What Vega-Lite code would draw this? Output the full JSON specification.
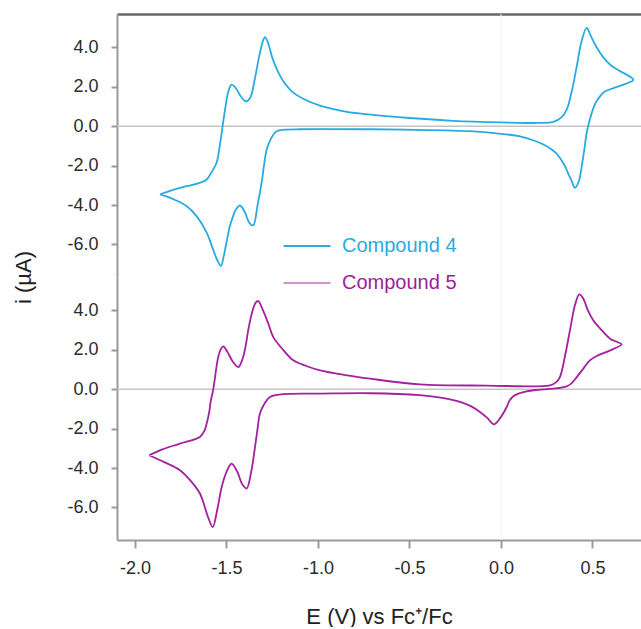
{
  "$schema": "https://vega.github.io/schema/vega-lite/v6.json",
  "padding": {"left": 12, "top": 13, "right": 0, "bottom": 0},
  "spacing": 0,
  "bounds": "flush",
  "datasets": {
    "cv": [
      {"compound": "Compound 4", "seq": 1, "E": -1.863, "i": -3.46},
      {"compound": "Compound 4", "seq": 2, "E": -1.8, "i": -3.25},
      {"compound": "Compound 4", "seq": 3, "E": -1.718, "i": -3.04},
      {"compound": "Compound 4", "seq": 4, "E": -1.65, "i": -2.88},
      {"compound": "Compound 4", "seq": 5, "E": -1.608, "i": -2.7},
      {"compound": "Compound 4", "seq": 6, "E": -1.58, "i": -2.3},
      {"compound": "Compound 4", "seq": 7, "E": -1.554, "i": -1.85},
      {"compound": "Compound 4", "seq": 8, "E": -1.535, "i": -0.9},
      {"compound": "Compound 4", "seq": 9, "E": -1.521, "i": 0.0},
      {"compound": "Compound 4", "seq": 10, "E": -1.505, "i": 1.0},
      {"compound": "Compound 4", "seq": 11, "E": -1.49, "i": 1.75},
      {"compound": "Compound 4", "seq": 12, "E": -1.472, "i": 2.11},
      {"compound": "Compound 4", "seq": 13, "E": -1.45, "i": 1.95},
      {"compound": "Compound 4", "seq": 14, "E": -1.42, "i": 1.5},
      {"compound": "Compound 4", "seq": 15, "E": -1.393, "i": 1.27},
      {"compound": "Compound 4", "seq": 16, "E": -1.37, "i": 1.45},
      {"compound": "Compound 4", "seq": 17, "E": -1.345, "i": 2.4},
      {"compound": "Compound 4", "seq": 18, "E": -1.32, "i": 3.6},
      {"compound": "Compound 4", "seq": 19, "E": -1.3, "i": 4.35},
      {"compound": "Compound 4", "seq": 20, "E": -1.29, "i": 4.53},
      {"compound": "Compound 4", "seq": 21, "E": -1.275, "i": 4.3},
      {"compound": "Compound 4", "seq": 22, "E": -1.25, "i": 3.5},
      {"compound": "Compound 4", "seq": 23, "E": -1.22, "i": 2.8},
      {"compound": "Compound 4", "seq": 24, "E": -1.19, "i": 2.3},
      {"compound": "Compound 4", "seq": 25, "E": -1.14, "i": 1.75},
      {"compound": "Compound 4", "seq": 26, "E": -1.08, "i": 1.4},
      {"compound": "Compound 4", "seq": 27, "E": -0.989, "i": 1.05},
      {"compound": "Compound 4", "seq": 28, "E": -0.85, "i": 0.75},
      {"compound": "Compound 4", "seq": 29, "E": -0.7, "i": 0.58},
      {"compound": "Compound 4", "seq": 30, "E": -0.5, "i": 0.42},
      {"compound": "Compound 4", "seq": 31, "E": -0.26, "i": 0.28},
      {"compound": "Compound 4", "seq": 32, "E": 0.0, "i": 0.2},
      {"compound": "Compound 4", "seq": 33, "E": 0.2, "i": 0.17},
      {"compound": "Compound 4", "seq": 34, "E": 0.286, "i": 0.22},
      {"compound": "Compound 4", "seq": 35, "E": 0.33, "i": 0.45},
      {"compound": "Compound 4", "seq": 36, "E": 0.359, "i": 0.85},
      {"compound": "Compound 4", "seq": 37, "E": 0.385, "i": 1.7},
      {"compound": "Compound 4", "seq": 38, "E": 0.414, "i": 3.04},
      {"compound": "Compound 4", "seq": 39, "E": 0.44, "i": 4.3},
      {"compound": "Compound 4", "seq": 40, "E": 0.468, "i": 5.0},
      {"compound": "Compound 4", "seq": 41, "E": 0.49, "i": 4.6},
      {"compound": "Compound 4", "seq": 42, "E": 0.52, "i": 4.05},
      {"compound": "Compound 4", "seq": 43, "E": 0.559, "i": 3.5},
      {"compound": "Compound 4", "seq": 44, "E": 0.6, "i": 3.1},
      {"compound": "Compound 4", "seq": 45, "E": 0.65, "i": 2.8},
      {"compound": "Compound 4", "seq": 46, "E": 0.69, "i": 2.6},
      {"compound": "Compound 4", "seq": 47, "E": 0.723, "i": 2.36},
      {"compound": "Compound 4", "seq": 48, "E": 0.68, "i": 2.15},
      {"compound": "Compound 4", "seq": 49, "E": 0.614, "i": 1.94},
      {"compound": "Compound 4", "seq": 50, "E": 0.565, "i": 1.75},
      {"compound": "Compound 4", "seq": 51, "E": 0.541, "i": 1.52},
      {"compound": "Compound 4", "seq": 52, "E": 0.515, "i": 1.15},
      {"compound": "Compound 4", "seq": 53, "E": 0.496, "i": 0.68},
      {"compound": "Compound 4", "seq": 54, "E": 0.48, "i": 0.15},
      {"compound": "Compound 4", "seq": 55, "E": 0.468, "i": -0.34},
      {"compound": "Compound 4", "seq": 56, "E": 0.455, "i": -1.2},
      {"compound": "Compound 4", "seq": 57, "E": 0.441, "i": -2.03},
      {"compound": "Compound 4", "seq": 58, "E": 0.425, "i": -2.8},
      {"compound": "Compound 4", "seq": 59, "E": 0.404, "i": -3.12},
      {"compound": "Compound 4", "seq": 60, "E": 0.385, "i": -2.75},
      {"compound": "Compound 4", "seq": 61, "E": 0.365, "i": -2.35},
      {"compound": "Compound 4", "seq": 62, "E": 0.35, "i": -2.03},
      {"compound": "Compound 4", "seq": 63, "E": 0.3, "i": -1.35},
      {"compound": "Compound 4", "seq": 64, "E": 0.25, "i": -1.01},
      {"compound": "Compound 4", "seq": 65, "E": 0.18, "i": -0.72},
      {"compound": "Compound 4", "seq": 66, "E": 0.104, "i": -0.51},
      {"compound": "Compound 4", "seq": 67, "E": -0.05, "i": -0.33},
      {"compound": "Compound 4", "seq": 68, "E": -0.169, "i": -0.25},
      {"compound": "Compound 4", "seq": 69, "E": -0.535, "i": -0.17},
      {"compound": "Compound 4", "seq": 70, "E": -0.989, "i": -0.14},
      {"compound": "Compound 4", "seq": 71, "E": -1.098, "i": -0.15},
      {"compound": "Compound 4", "seq": 72, "E": -1.18, "i": -0.17},
      {"compound": "Compound 4", "seq": 73, "E": -1.226, "i": -0.25},
      {"compound": "Compound 4", "seq": 74, "E": -1.255, "i": -0.6},
      {"compound": "Compound 4", "seq": 75, "E": -1.28, "i": -1.18},
      {"compound": "Compound 4", "seq": 76, "E": -1.295, "i": -2.0},
      {"compound": "Compound 4", "seq": 77, "E": -1.308, "i": -2.87},
      {"compound": "Compound 4", "seq": 78, "E": -1.33, "i": -4.0},
      {"compound": "Compound 4", "seq": 79, "E": -1.354, "i": -5.03},
      {"compound": "Compound 4", "seq": 80, "E": -1.375, "i": -4.9},
      {"compound": "Compound 4", "seq": 81, "E": -1.4, "i": -4.35},
      {"compound": "Compound 4", "seq": 82, "E": -1.426, "i": -4.02},
      {"compound": "Compound 4", "seq": 83, "E": -1.45, "i": -4.25},
      {"compound": "Compound 4", "seq": 84, "E": -1.465, "i": -4.6},
      {"compound": "Compound 4", "seq": 85, "E": -1.481, "i": -5.06},
      {"compound": "Compound 4", "seq": 86, "E": -1.5, "i": -5.9},
      {"compound": "Compound 4", "seq": 87, "E": -1.515, "i": -6.6},
      {"compound": "Compound 4", "seq": 88, "E": -1.53, "i": -7.09},
      {"compound": "Compound 4", "seq": 89, "E": -1.55, "i": -6.8},
      {"compound": "Compound 4", "seq": 90, "E": -1.575, "i": -6.2},
      {"compound": "Compound 4", "seq": 91, "E": -1.608, "i": -5.4},
      {"compound": "Compound 4", "seq": 92, "E": -1.66, "i": -4.6},
      {"compound": "Compound 4", "seq": 93, "E": -1.718, "i": -4.05},
      {"compound": "Compound 4", "seq": 94, "E": -1.79, "i": -3.7},
      {"compound": "Compound 4", "seq": 95, "E": -1.863, "i": -3.46},
      {"compound": "Compound 5", "seq": 1, "E": -1.922, "i": -3.35},
      {"compound": "Compound 5", "seq": 2, "E": -1.85, "i": -3.05},
      {"compound": "Compound 5", "seq": 3, "E": -1.754, "i": -2.76},
      {"compound": "Compound 5", "seq": 4, "E": -1.645, "i": -2.42},
      {"compound": "Compound 5", "seq": 5, "E": -1.62, "i": -2.1},
      {"compound": "Compound 5", "seq": 6, "E": -1.608, "i": -1.74},
      {"compound": "Compound 5", "seq": 7, "E": -1.595, "i": -1.2},
      {"compound": "Compound 5", "seq": 8, "E": -1.585, "i": -0.56},
      {"compound": "Compound 5", "seq": 9, "E": -1.572, "i": 0.0},
      {"compound": "Compound 5", "seq": 10, "E": -1.555, "i": 1.1},
      {"compound": "Compound 5", "seq": 11, "E": -1.545, "i": 1.64},
      {"compound": "Compound 5", "seq": 12, "E": -1.53, "i": 2.05},
      {"compound": "Compound 5", "seq": 13, "E": -1.517, "i": 2.18},
      {"compound": "Compound 5", "seq": 14, "E": -1.495, "i": 1.9},
      {"compound": "Compound 5", "seq": 15, "E": -1.465, "i": 1.4},
      {"compound": "Compound 5", "seq": 16, "E": -1.435, "i": 1.13},
      {"compound": "Compound 5", "seq": 17, "E": -1.41, "i": 1.6},
      {"compound": "Compound 5", "seq": 18, "E": -1.395, "i": 2.2},
      {"compound": "Compound 5", "seq": 19, "E": -1.381, "i": 3.0},
      {"compound": "Compound 5", "seq": 20, "E": -1.36, "i": 3.9},
      {"compound": "Compound 5", "seq": 21, "E": -1.34, "i": 4.4},
      {"compound": "Compound 5", "seq": 22, "E": -1.326, "i": 4.48},
      {"compound": "Compound 5", "seq": 23, "E": -1.3, "i": 4.0},
      {"compound": "Compound 5", "seq": 24, "E": -1.27, "i": 3.3},
      {"compound": "Compound 5", "seq": 25, "E": -1.244, "i": 2.65},
      {"compound": "Compound 5", "seq": 26, "E": -1.19, "i": 2.0},
      {"compound": "Compound 5", "seq": 27, "E": -1.135, "i": 1.47},
      {"compound": "Compound 5", "seq": 28, "E": -1.06, "i": 1.17},
      {"compound": "Compound 5", "seq": 29, "E": -0.989, "i": 0.96},
      {"compound": "Compound 5", "seq": 30, "E": -0.85, "i": 0.72},
      {"compound": "Compound 5", "seq": 31, "E": -0.716, "i": 0.54},
      {"compound": "Compound 5", "seq": 32, "E": -0.443, "i": 0.25},
      {"compound": "Compound 5", "seq": 33, "E": -0.078, "i": 0.19},
      {"compound": "Compound 5", "seq": 34, "E": 0.268, "i": 0.2},
      {"compound": "Compound 5", "seq": 35, "E": 0.3, "i": 0.35},
      {"compound": "Compound 5", "seq": 36, "E": 0.322, "i": 0.62},
      {"compound": "Compound 5", "seq": 37, "E": 0.35, "i": 1.7},
      {"compound": "Compound 5", "seq": 38, "E": 0.377, "i": 3.0},
      {"compound": "Compound 5", "seq": 39, "E": 0.405, "i": 4.3},
      {"compound": "Compound 5", "seq": 40, "E": 0.428, "i": 4.82},
      {"compound": "Compound 5", "seq": 41, "E": 0.45, "i": 4.6},
      {"compound": "Compound 5", "seq": 42, "E": 0.475, "i": 4.0},
      {"compound": "Compound 5", "seq": 43, "E": 0.504, "i": 3.5},
      {"compound": "Compound 5", "seq": 44, "E": 0.55, "i": 3.0},
      {"compound": "Compound 5", "seq": 45, "E": 0.596, "i": 2.57},
      {"compound": "Compound 5", "seq": 46, "E": 0.635, "i": 2.4},
      {"compound": "Compound 5", "seq": 47, "E": 0.659, "i": 2.28},
      {"compound": "Compound 5", "seq": 48, "E": 0.62, "i": 2.07},
      {"compound": "Compound 5", "seq": 49, "E": 0.578, "i": 1.9},
      {"compound": "Compound 5", "seq": 50, "E": 0.53, "i": 1.72},
      {"compound": "Compound 5", "seq": 51, "E": 0.486, "i": 1.47},
      {"compound": "Compound 5", "seq": 52, "E": 0.45, "i": 1.05},
      {"compound": "Compound 5", "seq": 53, "E": 0.414, "i": 0.62},
      {"compound": "Compound 5", "seq": 54, "E": 0.385, "i": 0.3},
      {"compound": "Compound 5", "seq": 55, "E": 0.359, "i": 0.15},
      {"compound": "Compound 5", "seq": 56, "E": 0.286, "i": 0.03},
      {"compound": "Compound 5", "seq": 57, "E": 0.2, "i": -0.03},
      {"compound": "Compound 5", "seq": 58, "E": 0.14, "i": -0.1},
      {"compound": "Compound 5", "seq": 59, "E": 0.1, "i": -0.2},
      {"compound": "Compound 5", "seq": 60, "E": 0.067, "i": -0.35},
      {"compound": "Compound 5", "seq": 61, "E": 0.045, "i": -0.6},
      {"compound": "Compound 5", "seq": 62, "E": 0.031, "i": -0.9},
      {"compound": "Compound 5", "seq": 63, "E": 0.0, "i": -1.4},
      {"compound": "Compound 5", "seq": 64, "E": -0.038, "i": -1.78},
      {"compound": "Compound 5", "seq": 65, "E": -0.075, "i": -1.45},
      {"compound": "Compound 5", "seq": 66, "E": -0.115, "i": -1.15},
      {"compound": "Compound 5", "seq": 67, "E": -0.16, "i": -0.88},
      {"compound": "Compound 5", "seq": 68, "E": -0.224, "i": -0.64},
      {"compound": "Compound 5", "seq": 69, "E": -0.32, "i": -0.44},
      {"compound": "Compound 5", "seq": 70, "E": -0.443, "i": -0.3},
      {"compound": "Compound 5", "seq": 71, "E": -0.716, "i": -0.2},
      {"compound": "Compound 5", "seq": 72, "E": -0.989, "i": -0.22},
      {"compound": "Compound 5", "seq": 73, "E": -1.19, "i": -0.25},
      {"compound": "Compound 5", "seq": 74, "E": -1.262, "i": -0.39},
      {"compound": "Compound 5", "seq": 75, "E": -1.29, "i": -0.7},
      {"compound": "Compound 5", "seq": 76, "E": -1.317, "i": -1.23},
      {"compound": "Compound 5", "seq": 77, "E": -1.33, "i": -2.0},
      {"compound": "Compound 5", "seq": 78, "E": -1.344, "i": -2.93},
      {"compound": "Compound 5", "seq": 79, "E": -1.365, "i": -4.2},
      {"compound": "Compound 5", "seq": 80, "E": -1.39, "i": -5.04},
      {"compound": "Compound 5", "seq": 81, "E": -1.415, "i": -4.8},
      {"compound": "Compound 5", "seq": 82, "E": -1.44, "i": -4.2},
      {"compound": "Compound 5", "seq": 83, "E": -1.472, "i": -3.77},
      {"compound": "Compound 5", "seq": 84, "E": -1.5, "i": -4.2},
      {"compound": "Compound 5", "seq": 85, "E": -1.526, "i": -4.96},
      {"compound": "Compound 5", "seq": 86, "E": -1.55, "i": -6.1},
      {"compound": "Compound 5", "seq": 87, "E": -1.575, "i": -6.99},
      {"compound": "Compound 5", "seq": 88, "E": -1.6, "i": -6.5},
      {"compound": "Compound 5", "seq": 89, "E": -1.645, "i": -5.29},
      {"compound": "Compound 5", "seq": 90, "E": -1.7, "i": -4.6},
      {"compound": "Compound 5", "seq": 91, "E": -1.754, "i": -4.11},
      {"compound": "Compound 5", "seq": 92, "E": -1.84, "i": -3.7},
      {"compound": "Compound 5", "seq": 93, "E": -1.922, "i": -3.35}
    ],
    "baseline": [{"zero": 0}]
  },
  "resolve": {"legend": {"color": "independent"}},
  "vconcat": [
    {
      "width": 524,
      "height": 263,
      "layer": [
        {
          "data": {"name": "baseline"},
          "mark": {"type": "rule", "color": "#f3f3f3", "strokeWidth": 1},
          "encoding": {"x": {"field": "zero", "type": "quantitative", "scale": {"domain": [-2.098, 0.765], "nice": false, "zero": false}}}
        },
        {
          "data": {"name": "baseline"},
          "mark": {"type": "rule", "color": "#c4c4c4", "strokeWidth": 1.5},
          "encoding": {"y": {"field": "zero", "type": "quantitative"}}
        },
        {
          "data": {"name": "cv"},
          "transform": [{"filter": "datum.compound === 'Compound 4'"}],
          "mark": {"type": "line", "interpolate": "catmull-rom", "strokeWidth": 1.8, "clip": true},
          "encoding": {
            "x": {
              "field": "E", "type": "quantitative",
              "scale": {"domain": [-2.098, 0.765], "nice": false, "zero": false},
              "axis": {"orient": "top", "labels": false, "ticks": false, "title": null, "grid": false, "domain": true, "domainColor": "#666666", "domainWidth": 2.5}
            },
            "y": {
              "field": "i", "type": "quantitative",
              "scale": {"domain": [-7.65, 5.7], "nice": false, "zero": false},
              "axis": {
                "values": [-6, -4, -2, 0, 2, 4],
                "labelExpr": "replace(format(datum.value, '.1f'), '\u2212', '-')",
                "domain": true,
                "ticks": true,
                "domainColor": "#9a9a9a",
                "domainWidth": 2,
                "tickColor": "#9a9a9a",
                "tickWidth": 2,
                "tickSize": 6,
                "labelPadding": 13,
                "title": "i (\u00b5A)",
                "titleX": -94,
                "titleY": 263,
                "titleAngle": 270,
                "titleAlign": "center",
                "titleBaseline": "middle"
              }
            },
            "order": {"field": "seq", "type": "quantitative"},
            "color": {
              "field": "compound", "type": "nominal",
              "scale": {"domain": ["Compound 4", "Compound 5"], "range": ["#29abe2", "#a3209e"]},
              "legend": {
                "title": null,
                "orient": "none",
                "legendX": 180,
                "legendY": 222,
                "symbolType": "stroke",
                "symbolSize": 2200,
                "labelFontSize": 20,
                "labelOffset": 25,
                "rowPadding": 17,
                "encode": {
                  "labels": {"update": {"fill": {"signal": "datum.value === 'Compound 4' ? '#29abe2' : '#9c1d98'"}}},
                  "symbols": {"update": {
                    "stroke": {"signal": "datum.value === 'Compound 4' ? '#5bbfe9' : '#e2a6e0'"},
                    "strokeWidth": {"signal": "datum.value === 'Compound 4' ? 2.2 : 1.2"}
                  }}
                }
              }
            }
          }
        }
      ]
    },
    {
      "width": 524,
      "height": 263,
      "layer": [
        {
          "data": {"name": "baseline"},
          "mark": {"type": "rule", "color": "#f3f3f3", "strokeWidth": 1},
          "encoding": {"x": {"field": "zero", "type": "quantitative", "scale": {"domain": [-2.098, 0.765], "nice": false, "zero": false}}}
        },
        {
          "data": {"name": "baseline"},
          "mark": {"type": "rule", "color": "#c4c4c4", "strokeWidth": 1.5},
          "encoding": {"y": {"field": "zero", "type": "quantitative"}}
        },
        {
          "data": {"name": "cv"},
          "transform": [{"filter": "datum.compound === 'Compound 5'"}],
          "mark": {"type": "line", "interpolate": "catmull-rom", "strokeWidth": 1.8, "clip": true},
          "encoding": {
            "x": {
              "field": "E", "type": "quantitative",
              "scale": {"domain": [-2.098, 0.765], "nice": false, "zero": false},
              "axis": {
                "values": [-2, -1.5, -1, -0.5, 0, 0.5],
                "labelExpr": "replace(format(datum.value, '.1f'), '\u2212', '-')",
                "title": "E (V) vs Fc\u207a/Fc",
                "grid": false,
                "domain": true,
                "ticks": true,
                "domainColor": "#9a9a9a",
                "domainWidth": 2,
                "tickColor": "#9a9a9a",
                "tickWidth": 2,
                "tickSize": 8,
                "labelPadding": 11,
                "titlePadding": 29
              }
            },
            "y": {
              "field": "i", "type": "quantitative",
              "scale": {"domain": [-7.65, 5.7], "nice": false, "zero": false},
              "axis": {
                "values": [-6, -4, -2, 0, 2, 4],
                "labelExpr": "replace(format(datum.value, '.1f'), '\u2212', '-')",
                "domain": true,
                "ticks": true,
                "domainColor": "#9a9a9a",
                "domainWidth": 2,
                "tickColor": "#9a9a9a",
                "tickWidth": 2,
                "tickSize": 6,
                "labelPadding": 13,
                "title": null
              }
            },
            "order": {"field": "seq", "type": "quantitative"},
            "color": {
              "field": "compound", "type": "nominal",
              "scale": {"domain": ["Compound 4", "Compound 5"], "range": ["#29abe2", "#a3209e"]},
              "legend": null
            }
          }
        }
      ]
    }
  ],
  "config": {
    "view": {"stroke": null},
    "font": "Liberation Sans",
    "axis": {
      "grid": false,
      "labelFont": "Liberation Sans",
      "labelFontSize": 18,
      "labelColor": "#2a2a2a",
      "titleFont": "Liberation Sans",
      "titleFontSize": 22,
      "titleFontWeight": "normal",
      "titleColor": "#222222"
    },
    "legend": {"labelFont": "Liberation Sans"}
  }
}
